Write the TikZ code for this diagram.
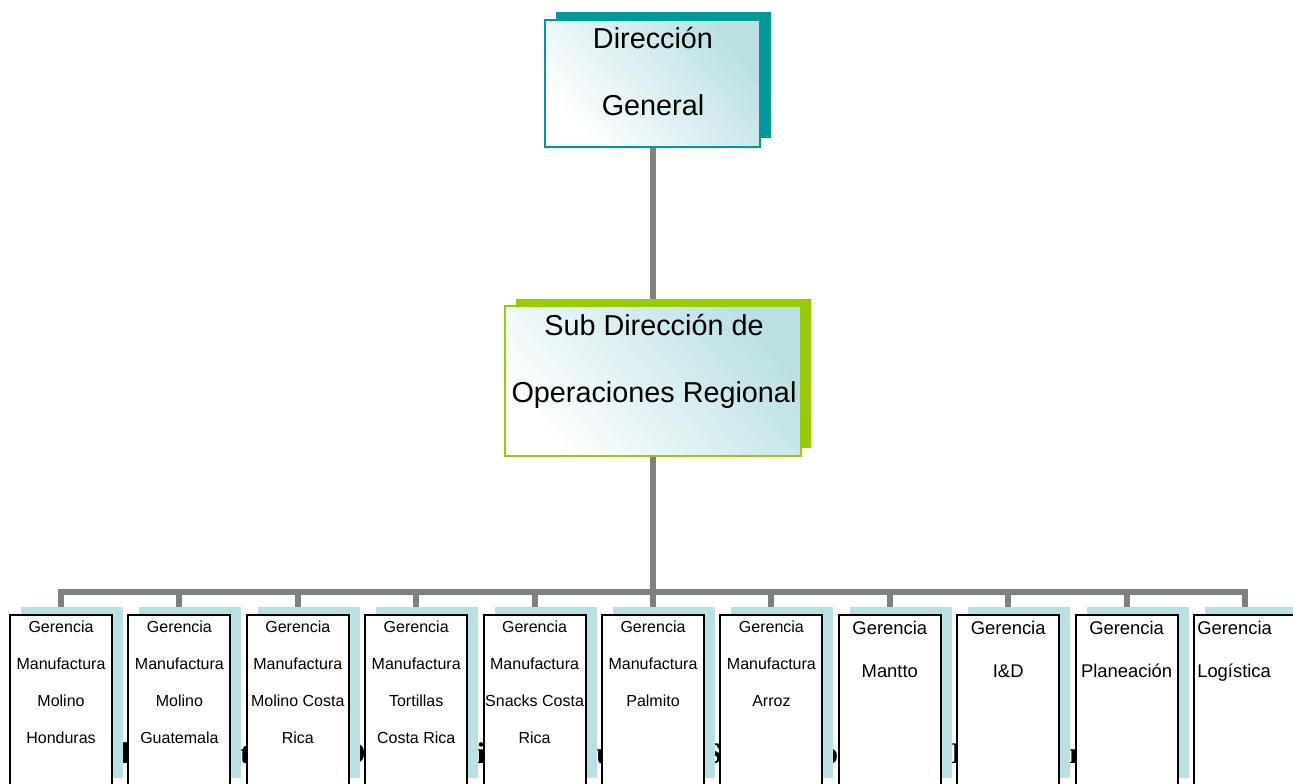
\documentclass[tikz,border=0pt]{standalone}
\usepackage{fontspec}
\setmainfont{Liberation Sans}
\newfontfamily\serifbold{Liberation Serif}
\usetikzlibrary{calc}

\definecolor{connGray}{RGB}{128,128,128}
\definecolor{tealShade}{RGB}{0,153,153}
\definecolor{limeShade}{RGB}{153,204,0}
\definecolor{paleCyan}{RGB}{186,224,228}

\pgfdeclarelayer{glyphs}
\pgfdeclarelayer{lines}
\pgfdeclarelayer{shades}
\pgfsetlayers{glyphs,lines,shades,main}

\tikzset{
  conn/.style={draw=connGray, line width=4.5pt},
  bigtxt/.style={font=\fontsize{21.6}{26}\selectfont, inner sep=0pt, anchor=base},
  topbox/.style={draw=tealShade, line width=0.9pt, top color=paleCyan, bottom color=white,
    shading angle=-50, minimum width={215*0.75pt}, minimum height={127*0.75pt}, inner sep=0pt},
  topshade/.style={fill=tealShade, minimum width={215*0.75pt}, minimum height={126*0.75pt}, inner sep=0pt},
  subbox/.style={draw=limeShade, line width=0.9pt, top color=paleCyan, bottom color=white,
    shading angle=-50, minimum width={296*0.75pt}, minimum height={150*0.75pt}, inner sep=0pt},
  subshade/.style={fill=limeShade, minimum width={295*0.75pt}, minimum height={149*0.75pt}, inner sep=0pt},
  gbox/.style={draw=black, fill=white, line width=1.5pt, minimum width={102*0.75pt},
    minimum height={215*0.75pt}, inner sep=0pt},
  gshade/.style={fill=paleCyan, minimum width={102*0.75pt}, minimum height={171*0.75pt}, inner sep=0pt},
  txts/.style={font=\fontsize{12}{14}\selectfont, inner sep=0pt, anchor=base},
  txtl/.style={font=\fontsize{13.8}{16}\selectfont, inner sep=0pt, anchor=base},
  txtg/.style={font=\fontsize{13.8}{16}\selectfont, inner sep=0pt, anchor=base west},
  frag/.style={font=\serifbold\bfseries\fontsize{22.5}{27}\selectfont, inner sep=0pt},
}

% one manager box: #1 index, #2 text style, #3 text x offset,
% #4 first baseline, #5 line pitch, #6 lines
\newcommand\gerbox[6]{%
  \pgfmathsetmacro\Lx{10+118.4*#1}%
  \begin{pgfonlayer}{shades}
    \node[gshade] (s#1) at (\Lx+62,692.5) {};
  \end{pgfonlayer}
  \node[gbox] (g#1) at (\Lx+51,722.5) {};
  \foreach \t [count=\k from 0] in {#6}{
    \pgfmathsetmacro\Ty{#4+#5*\k}
    \node[#2] (t#1-\k) at (\Lx+#3,\Ty) {\t};
  }%
}

\begin{document}
\begin{tikzpicture}[x=0.75pt,y=-0.75pt]
\useasboundingbox (0,0) rectangle (1293,783);
\clip (0,0) rectangle (1293,783);

% caption line lying underneath the boxes
\begin{pgfonlayer}{glyphs}
  \node[frag, anchor=base] (f1) at (125,763) {l};
  \node[frag, anchor=base] (f2) at (245,763) {t};
  \node[frag, anchor=base east] (f3) at (366,763) {O};
  \node[frag, anchor=base] (f4) at (481,763) {i};
  \node[frag, anchor=base west] (f5) at (596,763) {u};
  \node[frag, anchor=base east] (f6) at (722,763) {S};
  \node[frag, anchor=base east] (f7) at (838.5,763) {o};
  \node[frag, anchor=base west] (f8) at (951,763) {D};
  \node[frag, anchor=base west] (f9) at (1069,763) {n};
\end{pgfonlayer}

% top level
\begin{pgfonlayer}{shades}
  \node[topshade] (topS) at (663.5,75) {};
  \node[subshade] (subS) at (663.5,373.5) {};
\end{pgfonlayer}
\node[topbox] (top) at (652.5,83.5) {};
\node[bigtxt] (top1) at (653,48) {Dirección};
\node[bigtxt] (top2) at (653,115) {General};

\node[subbox] (sub) at (653,381) {};
\node[bigtxt] (sub1) at (654,335) {Sub Dirección de};
\node[bigtxt] (sub2) at (654,402) {Operaciones Regional};

% managers
\gerbox{0}{txts}{51}{632}{37}{Gerencia,Manufactura,Molino,Honduras}
\gerbox{1}{txts}{51}{632}{37}{Gerencia,Manufactura,Molino,Guatemala}
\gerbox{2}{txts}{51}{632}{37}{Gerencia,Manufactura,Molino Costa,Rica}
\gerbox{3}{txts}{51}{632}{37}{Gerencia,Manufactura,Tortillas,Costa Rica}
\gerbox{4}{txts}{51}{632}{37}{Gerencia,Manufactura,Snacks Costa,Rica}
\gerbox{5}{txts}{51}{632}{37}{Gerencia,Manufactura,Palmito}
\gerbox{6}{txts}{51}{632}{37}{Gerencia,Manufactura,Arroz}
\gerbox{7}{txtl}{51}{634}{43}{Gerencia,Mantto}
\gerbox{8}{txtl}{51}{634}{43}{Gerencia,I\&D}
\gerbox{9}{txtl}{51}{634}{43}{Gerencia,Planeación}
\gerbox{10}{txtg}{3}{634}{43}{Gerencia,Logística}

% connectors
\begin{pgfonlayer}{lines}
  \draw[conn] (top.south) -- (subS.north -| top.south);
  \foreach \i in {0,...,10}
    \draw[conn] (sub.south) -- ++(0,135) -| (s\i.north -| g\i.north);
\end{pgfonlayer}
\end{tikzpicture}
\end{document}
